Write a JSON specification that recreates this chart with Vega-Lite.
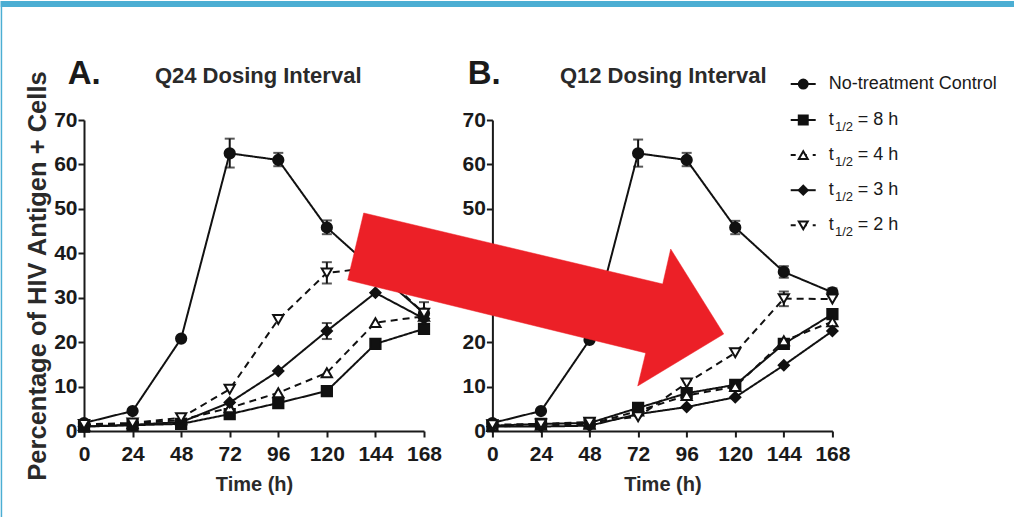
{
  "$schema": "https://vega.github.io/schema/vega-lite/v6.json",
  "padding": 0,
  "autosize": {"type": "pad"},
  "background": "white",
  "bounds": "flush",
  "spacing": 68.4,
  "datasets": {
    "obs": [
      {"panel": "A", "series": "No-treatment Control", "time": 0, "pct": 1.8},
      {"panel": "A", "series": "No-treatment Control", "time": 24, "pct": 4.5},
      {"panel": "A", "series": "No-treatment Control", "time": 48, "pct": 20.8},
      {"panel": "A", "series": "No-treatment Control", "time": 72, "pct": 62.5, "lo": 59.3, "hi": 65.8},
      {"panel": "A", "series": "No-treatment Control", "time": 96, "pct": 61.0, "lo": 59.6, "hi": 62.6},
      {"panel": "A", "series": "No-treatment Control", "time": 120, "pct": 45.8, "lo": 44.3, "hi": 47.4},
      {"panel": "A", "series": "No-treatment Control", "time": 144, "pct": 36.0},
      {"panel": "A", "series": "No-treatment Control", "time": 168, "pct": 26.5},
      {"panel": "A", "series": "t1/2 = 8 h", "time": 0, "pct": 1.0},
      {"panel": "A", "series": "t1/2 = 8 h", "time": 24, "pct": 1.3},
      {"panel": "A", "series": "t1/2 = 8 h", "time": 48, "pct": 1.6},
      {"panel": "A", "series": "t1/2 = 8 h", "time": 72, "pct": 3.8},
      {"panel": "A", "series": "t1/2 = 8 h", "time": 96, "pct": 6.3},
      {"panel": "A", "series": "t1/2 = 8 h", "time": 120, "pct": 9.0},
      {"panel": "A", "series": "t1/2 = 8 h", "time": 144, "pct": 19.6},
      {"panel": "A", "series": "t1/2 = 8 h", "time": 168, "pct": 23.0},
      {"panel": "A", "series": "t1/2 = 4 h", "time": 0, "pct": 1.2},
      {"panel": "A", "series": "t1/2 = 4 h", "time": 24, "pct": 1.6},
      {"panel": "A", "series": "t1/2 = 4 h", "time": 48, "pct": 2.5},
      {"panel": "A", "series": "t1/2 = 4 h", "time": 72, "pct": 5.2},
      {"panel": "A", "series": "t1/2 = 4 h", "time": 96, "pct": 8.6},
      {"panel": "A", "series": "t1/2 = 4 h", "time": 120, "pct": 13.1},
      {"panel": "A", "series": "t1/2 = 4 h", "time": 144, "pct": 24.4},
      {"panel": "A", "series": "t1/2 = 4 h", "time": 168, "pct": 25.8},
      {"panel": "A", "series": "t1/2 = 3 h", "time": 0, "pct": 1.0},
      {"panel": "A", "series": "t1/2 = 3 h", "time": 24, "pct": 1.4},
      {"panel": "A", "series": "t1/2 = 3 h", "time": 48, "pct": 2.0},
      {"panel": "A", "series": "t1/2 = 3 h", "time": 72, "pct": 6.4},
      {"panel": "A", "series": "t1/2 = 3 h", "time": 96, "pct": 13.5},
      {"panel": "A", "series": "t1/2 = 3 h", "time": 120, "pct": 22.5, "lo": 20.7, "hi": 24.3},
      {"panel": "A", "series": "t1/2 = 3 h", "time": 144, "pct": 31.1},
      {"panel": "A", "series": "t1/2 = 3 h", "time": 168, "pct": 25.3},
      {"panel": "A", "series": "t1/2 = 2 h", "time": 0, "pct": 1.5},
      {"panel": "A", "series": "t1/2 = 2 h", "time": 24, "pct": 1.8},
      {"panel": "A", "series": "t1/2 = 2 h", "time": 48, "pct": 3.0},
      {"panel": "A", "series": "t1/2 = 2 h", "time": 72, "pct": 9.4},
      {"panel": "A", "series": "t1/2 = 2 h", "time": 96, "pct": 25.1},
      {"panel": "A", "series": "t1/2 = 2 h", "time": 120, "pct": 35.6, "lo": 33.2, "hi": 38.0},
      {"panel": "A", "series": "t1/2 = 2 h", "time": 144, "pct": 36.8},
      {"panel": "A", "series": "t1/2 = 2 h", "time": 168, "pct": 26.5, "lo": 24.0, "hi": 29.0},

      {"panel": "B", "series": "No-treatment Control", "time": 0, "pct": 1.8},
      {"panel": "B", "series": "No-treatment Control", "time": 24, "pct": 4.5},
      {"panel": "B", "series": "No-treatment Control", "time": 48, "pct": 20.5},
      {"panel": "B", "series": "No-treatment Control", "time": 72, "pct": 62.5, "lo": 59.5, "hi": 65.6},
      {"panel": "B", "series": "No-treatment Control", "time": 96, "pct": 61.0, "lo": 59.6, "hi": 62.6},
      {"panel": "B", "series": "No-treatment Control", "time": 120, "pct": 45.8, "lo": 44.3, "hi": 47.3},
      {"panel": "B", "series": "No-treatment Control", "time": 144, "pct": 35.8, "lo": 34.5, "hi": 37.1},
      {"panel": "B", "series": "No-treatment Control", "time": 168, "pct": 31.2, "lo": 30.3, "hi": 32.1},
      {"panel": "B", "series": "t1/2 = 8 h", "time": 0, "pct": 1.2},
      {"panel": "B", "series": "t1/2 = 8 h", "time": 24, "pct": 1.6},
      {"panel": "B", "series": "t1/2 = 8 h", "time": 48, "pct": 1.8},
      {"panel": "B", "series": "t1/2 = 8 h", "time": 72, "pct": 5.2},
      {"panel": "B", "series": "t1/2 = 8 h", "time": 96, "pct": 8.5},
      {"panel": "B", "series": "t1/2 = 8 h", "time": 120, "pct": 10.4},
      {"panel": "B", "series": "t1/2 = 8 h", "time": 144, "pct": 19.6},
      {"panel": "B", "series": "t1/2 = 8 h", "time": 168, "pct": 26.3},
      {"panel": "B", "series": "t1/2 = 4 h", "time": 0, "pct": 1.0},
      {"panel": "B", "series": "t1/2 = 4 h", "time": 24, "pct": 1.3},
      {"panel": "B", "series": "t1/2 = 4 h", "time": 48, "pct": 1.5},
      {"panel": "B", "series": "t1/2 = 4 h", "time": 72, "pct": 4.5},
      {"panel": "B", "series": "t1/2 = 4 h", "time": 96, "pct": 8.0},
      {"panel": "B", "series": "t1/2 = 4 h", "time": 120, "pct": 10.0},
      {"panel": "B", "series": "t1/2 = 4 h", "time": 144, "pct": 20.3},
      {"panel": "B", "series": "t1/2 = 4 h", "time": 168, "pct": 24.6},
      {"panel": "B", "series": "t1/2 = 3 h", "time": 0, "pct": 1.0},
      {"panel": "B", "series": "t1/2 = 3 h", "time": 24, "pct": 1.0},
      {"panel": "B", "series": "t1/2 = 3 h", "time": 48, "pct": 1.2},
      {"panel": "B", "series": "t1/2 = 3 h", "time": 72, "pct": 3.8},
      {"panel": "B", "series": "t1/2 = 3 h", "time": 96, "pct": 5.4},
      {"panel": "B", "series": "t1/2 = 3 h", "time": 120, "pct": 7.6},
      {"panel": "B", "series": "t1/2 = 3 h", "time": 144, "pct": 14.8},
      {"panel": "B", "series": "t1/2 = 3 h", "time": 168, "pct": 22.5},
      {"panel": "B", "series": "t1/2 = 2 h", "time": 0, "pct": 1.4},
      {"panel": "B", "series": "t1/2 = 2 h", "time": 24, "pct": 1.6},
      {"panel": "B", "series": "t1/2 = 2 h", "time": 48, "pct": 2.0},
      {"panel": "B", "series": "t1/2 = 2 h", "time": 72, "pct": 3.2},
      {"panel": "B", "series": "t1/2 = 2 h", "time": 96, "pct": 10.8},
      {"panel": "B", "series": "t1/2 = 2 h", "time": 120, "pct": 17.6},
      {"panel": "B", "series": "t1/2 = 2 h", "time": 144, "pct": 29.8, "lo": 28.1, "hi": 31.4},
      {"panel": "B", "series": "t1/2 = 2 h", "time": 168, "pct": 29.7}
    ],
    "legendRows": [
      {"series": "No-treatment Control", "ly": 78.1, "lead": "No-treatment Control", "sub": "", "tail": "", "dashed": false},
      {"series": "t1/2 = 8 h", "ly": 70.0, "lead": "t", "sub": "1/2", "tail": "= 8 h", "dashed": false},
      {"series": "t1/2 = 4 h", "ly": 62.1, "lead": "t", "sub": "1/2", "tail": "= 4 h", "dashed": true},
      {"series": "t1/2 = 3 h", "ly": 54.2, "lead": "t", "sub": "1/2", "tail": "= 3 h", "dashed": false},
      {"series": "t1/2 = 2 h", "ly": 46.3, "lead": "t", "sub": "1/2", "tail": "= 2 h", "dashed": true}
    ],
    "arrow": [
      {"k": 1, "t": -63.59, "v": 49.07},
      {"k": 2, "t": 84.15, "v": 33.09},
      {"k": 3, "t": 88.1, "v": 40.96},
      {"k": 4, "t": 114.3, "v": 21.83},
      {"k": 5, "t": 71.8, "v": 10.13},
      {"k": 6, "t": 75.75, "v": 17.56},
      {"k": 7, "t": -71.5, "v": 33.99}
    ]
  },
  "hconcat": [
    {
      "width": 340,
      "height": 311,
      "layer": [
        {
          "data": {"values": [{}]},
          "mark": {"type": "rect", "color": "#4caed3"},
          "encoding": {
            "x": {"datum": -41.16, "type": "quantitative", "scale": {"domain": [0, 168], "nice": false, "zero": false}},
            "x2": {"datum": 459.88},
            "y": {"datum": 96.785, "type": "quantitative", "scale": {"domain": [0, 70], "nice": false}},
            "y2": {"datum": 95.43}
          }
        },
        {
          "data": {"values": [{}]},
          "mark": {"type": "rect", "color": "#4caed3"},
          "encoding": {
            "x": {"datum": -41.16, "type": "quantitative"},
            "x2": {"datum": -40.42},
            "y": {"datum": 96.785, "type": "quantitative"},
            "y2": {"datum": -19.58}
          }
        },
        {
          "data": {"name": "obs"},
          "transform": [{"filter": "datum.panel === 'A'"}],
          "mark": {"type": "line", "strokeWidth": 2, "color": "#111"},
          "encoding": {
            "x": {"field": "time", "type": "quantitative", "scale": {"domain": [0, 168], "nice": false, "zero": false},
                  "axis": {"title": "Time (h)", "values": [0, 24, 48, 72, 96, 120, 144, 168]}},
            "y": {"field": "pct", "type": "quantitative", "scale": {"domain": [0, 70], "nice": false},
                  "axis": {"title": "Percentage of HIV Antigen + Cells", "values": [0, 10, 20, 30, 40, 50, 60, 70]}},
            "detail": {"field": "series"},
            "strokeDash": {"field": "series", "type": "nominal", "legend": null,
              "scale": {"domain": ["No-treatment Control", "t1/2 = 8 h", "t1/2 = 4 h", "t1/2 = 3 h", "t1/2 = 2 h"],
                        "range": [[1, 0], [1, 0], [7, 5], [1, 0], [7, 5]]}}
          }
        },
        {
          "data": {"name": "obs"},
          "transform": [{"filter": "datum.panel === 'A' && isValid(datum.lo)"}],
          "mark": {"type": "rule", "strokeWidth": 2, "color": "#111"},
          "encoding": {
            "x": {"field": "time", "type": "quantitative"},
            "y": {"field": "lo", "type": "quantitative"},
            "y2": {"field": "hi"}
          }
        },
        {
          "data": {"name": "obs"},
          "transform": [{"filter": "datum.panel === 'A' && isValid(datum.lo)"}, {"fold": ["lo", "hi"], "as": ["end", "bound"]}],
          "mark": {"type": "tick", "orient": "horizontal", "size": 10, "thickness": 2, "color": "#111"},
          "encoding": {
            "x": {"field": "time", "type": "quantitative"},
            "y": {"field": "bound", "type": "quantitative"}
          }
        },
        {
          "data": {"name": "obs"},
          "transform": [{"filter": "datum.panel === 'A'"}],
          "mark": {"type": "point", "size": 105, "strokeWidth": 2, "stroke": "#111", "opacity": 1},
          "encoding": {
            "x": {"field": "time", "type": "quantitative"},
            "y": {"field": "pct", "type": "quantitative"},
            "shape": {"field": "series", "type": "nominal", "legend": null,
              "scale": {"domain": ["No-treatment Control", "t1/2 = 8 h", "t1/2 = 4 h", "t1/2 = 3 h", "t1/2 = 2 h"],
                        "range": ["circle", "square", "triangle-up", "diamond", "triangle-down"]}},
            "fill": {"field": "series", "type": "nominal", "legend": null,
              "scale": {"domain": ["No-treatment Control", "t1/2 = 8 h", "t1/2 = 4 h", "t1/2 = 3 h", "t1/2 = 2 h"],
                        "range": ["#111", "#111", "#fff", "#111", "#fff"]}}
          }
        },
        {
          "data": {"values": [{}]},
          "mark": {"type": "text", "text": "A.", "font": "Liberation Sans", "fontWeight": "bold", "fontSize": 33, "align": "left", "baseline": "alphabetic", "color": "#1a1a1a"},
          "encoding": {"x": {"datum": -8.05, "type": "quantitative"}, "y": {"datum": 78.1, "type": "quantitative"}}
        },
        {
          "data": {"values": [{}]},
          "mark": {"type": "text", "text": "Q24 Dosing Interval", "font": "Liberation Sans", "fontWeight": "bold", "fontSize": 22, "align": "center", "baseline": "alphabetic", "color": "#2a2a2a"},
          "encoding": {"x": {"datum": 86.07, "type": "quantitative"}, "y": {"datum": 78.33, "type": "quantitative"}}
        }
      ]
    },
    {
      "width": 340,
      "height": 311,
      "layer": [
        {
          "data": {"name": "obs"},
          "transform": [{"filter": "datum.panel === 'B'"}],
          "mark": {"type": "line", "strokeWidth": 2, "color": "#111"},
          "encoding": {
            "x": {"field": "time", "type": "quantitative", "scale": {"domain": [0, 168], "nice": false, "zero": false},
                  "axis": {"title": "Time (h)", "values": [0, 24, 48, 72, 96, 120, 144, 168]}},
            "y": {"field": "pct", "type": "quantitative", "scale": {"domain": [0, 70], "nice": false},
                  "axis": {"title": null, "values": [0, 10, 20, 30, 40, 50, 60, 70]}},
            "detail": {"field": "series"},
            "strokeDash": {"field": "series", "type": "nominal", "legend": null,
              "scale": {"domain": ["No-treatment Control", "t1/2 = 8 h", "t1/2 = 4 h", "t1/2 = 3 h", "t1/2 = 2 h"],
                        "range": [[1, 0], [1, 0], [7, 5], [1, 0], [7, 5]]}}
          }
        },
        {
          "data": {"name": "obs"},
          "transform": [{"filter": "datum.panel === 'B' && isValid(datum.lo)"}],
          "mark": {"type": "rule", "strokeWidth": 2, "color": "#111"},
          "encoding": {
            "x": {"field": "time", "type": "quantitative"},
            "y": {"field": "lo", "type": "quantitative"},
            "y2": {"field": "hi"}
          }
        },
        {
          "data": {"name": "obs"},
          "transform": [{"filter": "datum.panel === 'B' && isValid(datum.lo)"}, {"fold": ["lo", "hi"], "as": ["end", "bound"]}],
          "mark": {"type": "tick", "orient": "horizontal", "size": 10, "thickness": 2, "color": "#111"},
          "encoding": {
            "x": {"field": "time", "type": "quantitative"},
            "y": {"field": "bound", "type": "quantitative"}
          }
        },
        {
          "data": {"name": "obs"},
          "transform": [{"filter": "datum.panel === 'B'"}],
          "mark": {"type": "point", "size": 105, "strokeWidth": 2, "stroke": "#111", "opacity": 1},
          "encoding": {
            "x": {"field": "time", "type": "quantitative"},
            "y": {"field": "pct", "type": "quantitative"},
            "shape": {"field": "series", "type": "nominal", "legend": null,
              "scale": {"domain": ["No-treatment Control", "t1/2 = 8 h", "t1/2 = 4 h", "t1/2 = 3 h", "t1/2 = 2 h"],
                        "range": ["circle", "square", "triangle-up", "diamond", "triangle-down"]}},
            "fill": {"field": "series", "type": "nominal", "legend": null,
              "scale": {"domain": ["No-treatment Control", "t1/2 = 8 h", "t1/2 = 4 h", "t1/2 = 3 h", "t1/2 = 2 h"],
                        "range": ["#111", "#111", "#fff", "#111", "#fff"]}}
          }
        },
        {
          "data": {"values": [{}]},
          "mark": {"type": "text", "text": "B.", "font": "Liberation Sans", "fontWeight": "bold", "fontSize": 33, "align": "left", "baseline": "alphabetic", "color": "#1a1a1a"},
          "encoding": {"x": {"datum": -12.2, "type": "quantitative"}, "y": {"datum": 78.1, "type": "quantitative"}}
        },
        {
          "data": {"values": [{}]},
          "mark": {"type": "text", "text": "Q12 Dosing Interval", "font": "Liberation Sans", "fontWeight": "bold", "fontSize": 22, "align": "center", "baseline": "alphabetic", "color": "#2a2a2a"},
          "encoding": {"x": {"datum": 84.4, "type": "quantitative"}, "y": {"datum": 78.33, "type": "quantitative"}}
        },
        {
          "data": {"name": "legendRows"},
          "transform": [{"filter": "!datum.dashed"}],
          "mark": {"type": "rule", "strokeWidth": 2, "color": "#111"},
          "encoding": {
            "x": {"datum": 147.4, "type": "quantitative"},
            "x2": {"datum": 159.75},
            "y": {"field": "ly", "type": "quantitative"}
          }
        },
        {
          "data": {"name": "legendRows"},
          "transform": [{"filter": "datum.dashed"}],
          "mark": {"type": "rule", "strokeWidth": 2, "color": "#111", "strokeDash": [5, 6]},
          "encoding": {
            "x": {"datum": 147.4, "type": "quantitative"},
            "x2": {"datum": 159.75},
            "y": {"field": "ly", "type": "quantitative"}
          }
        },
        {
          "data": {"name": "legendRows"},
          "mark": {"type": "point", "size": 80, "strokeWidth": 2, "stroke": "#111", "opacity": 1},
          "encoding": {
            "x": {"datum": 153.6, "type": "quantitative"},
            "y": {"field": "ly", "type": "quantitative"},
            "shape": {"field": "series", "type": "nominal", "legend": null},
            "fill": {"field": "series", "type": "nominal", "legend": null}
          }
        },
        {
          "data": {"name": "legendRows"},
          "mark": {"type": "text", "font": "Liberation Sans", "fontSize": 18, "align": "left", "baseline": "middle", "color": "#1a1a1a"},
          "encoding": {
            "x": {"datum": 166.2, "type": "quantitative"},
            "y": {"field": "ly", "type": "quantitative"},
            "text": {"field": "lead"}
          }
        },
        {
          "data": {"name": "legendRows"},
          "mark": {"type": "text", "font": "Liberation Sans", "fontSize": 13, "align": "left", "baseline": "middle", "dy": 7, "color": "#1a1a1a"},
          "encoding": {
            "x": {"datum": 169.3, "type": "quantitative"},
            "y": {"field": "ly", "type": "quantitative"},
            "text": {"field": "sub"}
          }
        },
        {
          "data": {"name": "legendRows"},
          "mark": {"type": "text", "font": "Liberation Sans", "fontSize": 18, "align": "left", "baseline": "middle", "color": "#1a1a1a"},
          "encoding": {
            "x": {"datum": 180.5, "type": "quantitative"},
            "y": {"field": "ly", "type": "quantitative"},
            "text": {"field": "tail"}
          }
        },
        {
          "data": {"name": "arrow"},
          "mark": {"type": "line", "interpolate": "linear-closed", "fill": "#ec2027", "stroke": "#ec2027", "strokeWidth": 0.5},
          "encoding": {
            "x": {"field": "t", "type": "quantitative"},
            "y": {"field": "v", "type": "quantitative"},
            "order": {"field": "k", "type": "quantitative"}
          }
        }
      ]
    }
  ],
  "config": {
    "view": {"stroke": null},
    "axis": {
      "grid": false,
      "domainColor": "#1a1a1a",
      "domainWidth": 2,
      "tickColor": "#1a1a1a",
      "tickWidth": 2,
      "tickSize": 6,
      "labelFont": "Liberation Sans",
      "labelFontWeight": "bold",
      "labelFontSize": 21,
      "labelColor": "#1a1a1a",
      "titleColor": "#2a2a2a",
      "labelOverlap": false,
      "labelFlush": false
    },
    "axisX": {
      "labelPadding": 6,
      "titleFont": "Liberation Sans",
      "titleFontSize": 20,
      "titleFontWeight": "bold",
      "titlePadding": 10
    },
    "axisY": {
      "labelPadding": 1,
      "titleFont": "Liberation Sans",
      "titleFontSize": 25.5,
      "titleFontWeight": "bold",
      "titlePadding": 3
    }
  }
}
